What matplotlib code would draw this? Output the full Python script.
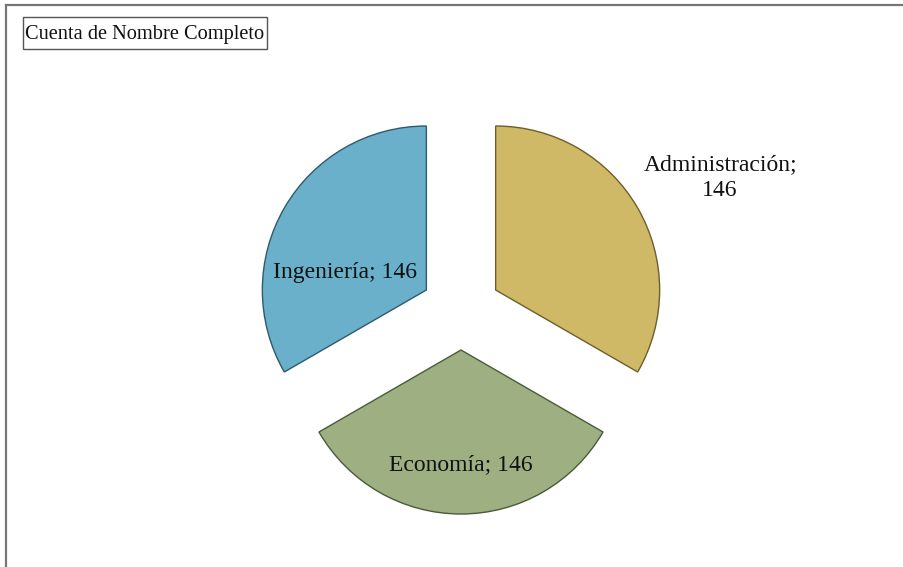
import numpy as np
import matplotlib
matplotlib.use("Agg")
import matplotlib.pyplot as plt
from matplotlib.patches import Rectangle

# data
categories = ["Administración", "Economía", "Ingeniería"]
counts = [146, 146, 146]
colors = ["#CFB967", "#9EB082", "#6AB0CA"]
edges = ["#6B5F2C", "#4B5A3A", "#2E5A6C"]
title = "Cuenta de Nombre Completo"

plt.rcParams['font.family'] = ['Liberation Serif', 'DejaVu Serif']

W, H = 904, 567
fig = plt.figure(figsize=(W / 100, H / 100), dpi=100)

# pie centre and radius in pixels
cx, cy, rad = 461, 310, 164
ax = fig.add_axes([0, 0, 1, 1])

wedges, _ = ax.pie(counts, colors=colors, startangle=90, counterclock=False,
                   explode=[40 / rad] * 3, radius=1, frame=True,
                   wedgeprops=dict(linewidth=1.0))
for w, ec in zip(wedges, edges):
    w.set_edgecolor(ec)
ax.set_xlim(-cx / rad, (W - cx) / rad)
ax.set_ylim(-(H - cy) / rad, cy / rad)
ax.set_aspect("auto")
ax.axis("off")

# data labels
label_pos = [(1.58, 0.81), (0.0, -0.94), (-0.71, 0.23)]
for name, n, (lx, ly) in zip(categories, counts, label_pos):
    if name == "Administración":
        txt = f"{name};\n{n}"
    else:
        txt = f"{name}; {n}"
    ax.text(lx, ly, txt, ha="center", va="center", fontsize=17,
            linespacing=1.3, color="#111111")

# title box
fig.add_artist(Rectangle((23 / W, 1 - 49 / H), 244 / W, 32 / H,
                         transform=fig.transFigure, fc="white",
                         ec="#555555", lw=1.0))
fig.text(25 / W, 1 - 34 / H, title, ha="left", va="center", fontsize=14.7,
         color="#111111")

# outer frame (partially visible)
fig.add_artist(plt.Line2D([6 / W, 1.0], [1 - 5 / H, 1 - 5 / H],
                          transform=fig.transFigure, color="#777777", lw=1.6))
fig.add_artist(plt.Line2D([6 / W, 6 / W], [0.0, 1 - 5 / H],
                          transform=fig.transFigure, color="#777777", lw=1.6))

fig.savefig("out.png", dpi=100)
